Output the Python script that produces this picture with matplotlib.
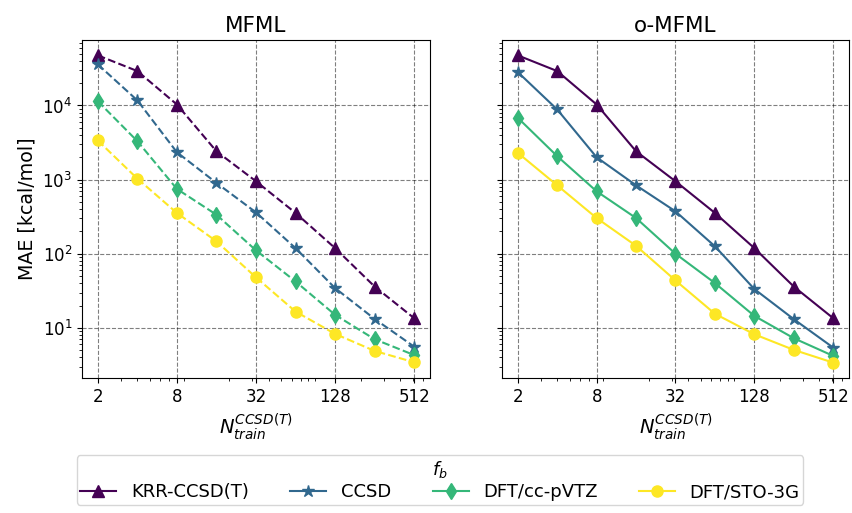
import matplotlib
matplotlib.use("Agg")
import matplotlib.pyplot as plt
import numpy as np

n_train = [2, 4, 8, 16, 32, 64, 128, 256, 512]
methods = ["KRR-CCSD(T)", "CCSD", "DFT/cc-pVTZ", "DFT/STO-3G"]

mfml_krr = [47400, 29100, 10300, 2410, 949, 355, 119, 36.1, 13.5]
mfml_ccsd = [35800, 11700, 2340, 902, 361, 119, 34.4, 13.2, 5.58]
mfml_vtz = [11400, 3300, 748, 336, 111, 42.3, 15.0, 7.03, 4.3]
mfml_sto = [3370, 1030, 355, 147, 48.0, 16.6, 8.3, 4.89, 3.44]

omfml_krr = [47400, 29100, 10300, 2410, 949, 355, 119, 36.1, 13.5]
omfml_ccsd = [28200, 8830, 2000, 837, 373, 126, 33.4, 13.1, 5.42]
omfml_vtz = [6820, 2070, 695, 303, 100, 40.2, 14.5, 7.26, 4.19]
omfml_sto = [2300, 837, 303, 128, 43.6, 15.5, 8.2, 5.05, 3.4]

xticks = [2, 8, 32, 128, 512]
titles = ["MFML", "o-MFML"]

colors = ["#440154", "#31688e", "#35b779", "#fde725"]
markers = ["^", "*", "d", "o"]

fig = plt.figure(figsize=(8.52, 5.13), dpi=100)
ax1 = fig.add_axes([82/852, 1-378/513, 348/852, 338/513])
ax2 = fig.add_axes([502/852, 1-378/513, 347/852, 338/513], sharey=ax1)

panels = [
    (ax1, [mfml_krr, mfml_ccsd, mfml_vtz, mfml_sto], "--"),
    (ax2, [omfml_krr, omfml_ccsd, omfml_vtz, omfml_sto], "-"),
]
handles = []
for ax, series, ls in panels:
    hs = []
    for vals, c, m, lab in zip(series, colors, markers, methods):
        ms = 9 if m == "*" else 8
        h, = ax.plot(n_train, vals, linestyle=ls, color=c, marker=m,
                     markersize=ms, label=lab, linewidth=1.5)
        hs.append(h)
    handles = hs
    ax.set_xscale("log")
    ax.set_yscale("log")
    ax.set_xticks(xticks)
    ax.set_xticklabels([str(t) for t in xticks])
    ax.tick_params(labelsize=12)
    ax.grid(True, which="major", linestyle="--", color="black", alpha=0.5)
    ax.set_xlabel(r"$N_{train}^{CCSD(T)}$", fontsize=14)

ax1.set_title(titles[0], fontsize=15.5)
ax2.set_title(titles[1], fontsize=15.5)
ax1.set_ylabel("MAE [kcal/mol]", fontsize=13.7)
plt.setp(ax2.get_yticklabels(), visible=False)

fig.legend(handles=handles, labels=methods, loc="upper center",
           bbox_to_anchor=(440/852, 1-455/513), ncol=4, fontsize=13,
           title=r"$f_b$", title_fontsize=13, borderpad=0.2,
           labelspacing=0.2, borderaxespad=0.0, columnspacing=2.3)

fig.savefig("out.png", dpi=100)
